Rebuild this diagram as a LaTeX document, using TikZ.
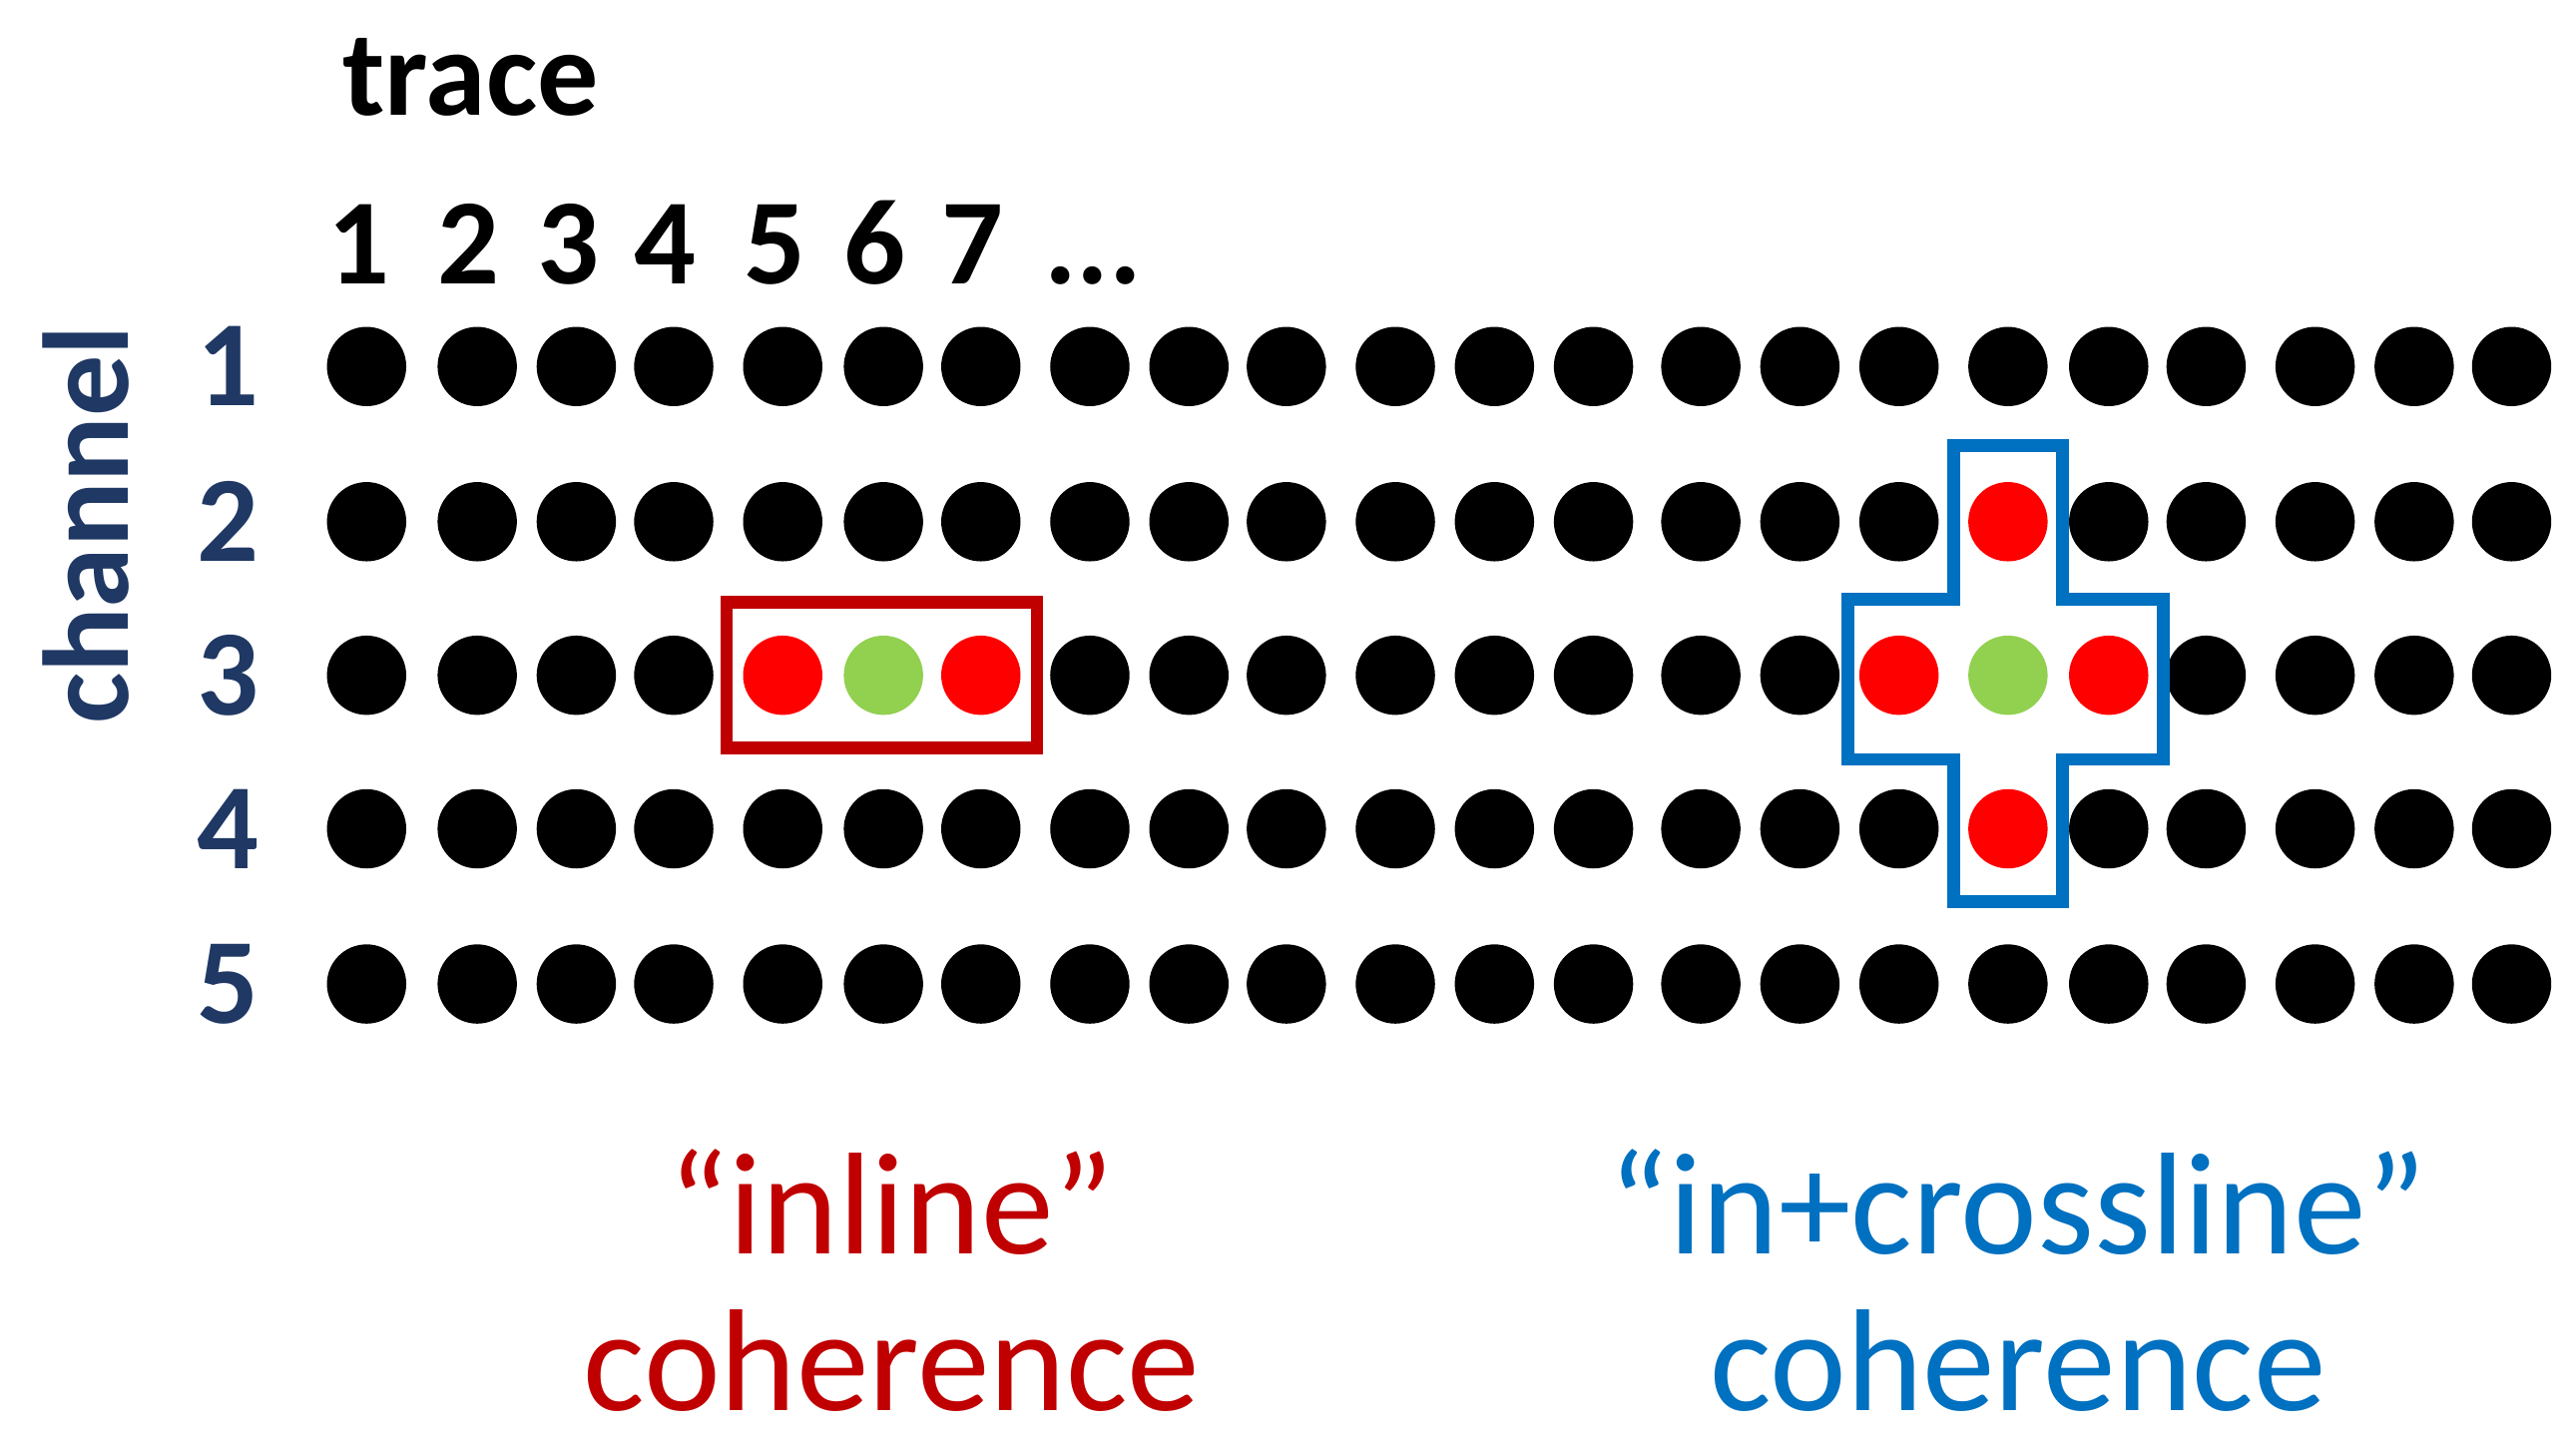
\documentclass[tikz,border=0pt]{standalone}
\usepackage{fontspec}
\setmainfont{Carlito}
\definecolor{navy}{HTML}{1F3864}
\definecolor{cred}{HTML}{C00000}
\definecolor{cblue}{HTML}{0070C0}
\definecolor{cgreen}{HTML}{92D050}
\begin{document}
\begin{tikzpicture}[x=0.01cm,y=-0.01cm,
  dotb/.style={circle,fill=black,minimum size=0.48cm,inner sep=0pt},
  dotr/.style={circle,fill=red,minimum size=0.48cm,inner sep=0pt},
  dotg/.style={circle,fill=cgreen,minimum size=0.48cm,inner sep=0pt},
  lbl/.style={font=\fontsize{21}{24}\selectfont\bfseries},
  big/.style={font=\fontsize{25}{30}\selectfont}]
\useasboundingbox (0,0) rectangle (1560,874);
\node[lbl,anchor=base] (trace) at (285,70) {trace};
\def\xs{222,289,349,408,474,535,594,660,720,779,845,905,965,1030,1090,1150,1216,1277,1336,1402,1462,1521}
\foreach \x [count=\i] in {222,289,349,408,474,535,594} {
  \node[lbl,anchor=base] (n\i) at (\x-5,172) {\i};
}
\node[lbl,anchor=base] (dots) at (662,172) {...};
\foreach \y [count=\r] in {222,316,409,502,596} {
  \node[lbl,text=navy] (c\r) at (138,\y) {\r};
  \foreach \x [count=\c] in \xs {
    \def\st{dotb}
    \ifnum\r=3 \ifnum\c=5 \def\st{dotr}\fi\ifnum\c=6 \def\st{dotg}\fi\ifnum\c=7 \def\st{dotr}\fi
      \ifnum\c=16 \def\st{dotr}\fi\ifnum\c=17 \def\st{dotg}\fi\ifnum\c=18 \def\st{dotr}\fi\fi
    \ifnum\r=2 \ifnum\c=17 \def\st{dotr}\fi\fi
    \ifnum\r=4 \ifnum\c=17 \def\st{dotr}\fi\fi
    \node[\st] (d\r-\c) at (\x,\y) {};
  }
}
\node[lbl,text=navy,rotate=90] (chan) at (52,318) {channel};
\draw[cred,line width=2.2pt] (440,365) rectangle (628,453);
\draw[cblue,line width=2.2pt] (1183,270) -- (1249,270) -- (1249,363) -- (1310,363) -- (1310,460) -- (1249,460) -- (1249,546) -- (1183,546) -- (1183,460) -- (1119,460) -- (1119,363) -- (1183,363) -- cycle;
\node[big,text=cred] (inl) at (540,728) {“inline”};
\node[big,text=cred] (coh1) at (540,824) {coherence};
\node[big,text=cblue] (inc) at (1222,728) {“in+crossline”};
\node[big,text=cblue] (coh2) at (1222,824) {coherence};
\end{tikzpicture}
\end{document}
